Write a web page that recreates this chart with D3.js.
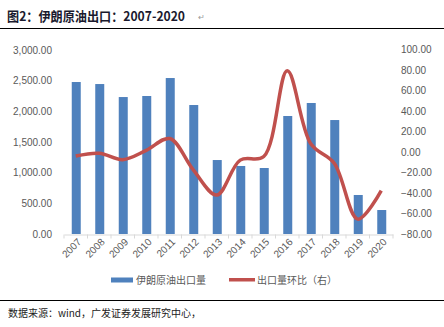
<!DOCTYPE html>
<html><head><meta charset="utf-8">
<script src="https://cdn.jsdelivr.net/npm/d3@7"></script>
<style>body{margin:0;background:#fff;}svg{display:block;}</style>
</head><body>
<script>
const years = ["2007","2008","2009","2010","2011","2012","2013","2014","2015","2016","2017","2018","2019","2020"];
const exports = [2478,2445,2233,2250,2543,2103,1206,1109,1076,1924,2136,1858,636,391];
const growth = [-4,-1.3,-7.6,1.5,13,-17.5,-42,-8,-4.5,79,8,-11,-65.5,-37.7];
const leftTicks = [0,500,1000,1500,2000,2500,3000];
const rightTicks = [-80,-60,-40,-20,0,20,40,60,80,100];
const seriesNames = ["伊朗原油出口量","出口量环比（右）"];

const W=444,H=327;
const svg=d3.select("body").append("svg").attr("width",W).attr("height",H);
const font="'Liberation Sans', Arial, sans-serif";
const cjk="'Noto Sans CJK SC', sans-serif";

// title
svg.append("text").attr("x",7).attr("y",21).attr("font-family",cjk).attr("font-weight","bold")
  .attr("font-size",13).attr("fill","#1a1a2e").attr("textLength",178).attr("lengthAdjust","spacingAndGlyphs")
  .text("图2：伊朗原油出口：2007-2020");
svg.append("text").attr("x",198).attr("y",20).attr("font-family",font).attr("font-size",8).attr("fill","#999").text("↵");
svg.append("line").attr("x1",0).attr("x2",444).attr("y1",28.5).attr("y2",28.5).attr("stroke","#000").attr("stroke-width",1);

const x=d3.scaleBand().domain(years).range([64,393]);
const yL=d3.scaleLinear().domain([0,3000]).range([234,50]);
const yR=d3.scaleLinear().domain([-80,100]).range([234,49.3]);

// axes labels
const gL=svg.append("g").attr("transform","translate(55,0)")
  .call(d3.axisLeft(yL).tickValues(leftTicks).tickSize(0).tickFormat(d3.format(",.2f")));
gL.select(".domain").remove();
gL.selectAll("text").attr("font-family",font).attr("font-size",10).attr("fill","#595959");

const gR=svg.append("g").attr("transform","translate(402,0)")
  .call(d3.axisRight(yR).tickValues(rightTicks).tickSize(0).tickFormat(d3.format(".2f")));
gR.select(".domain").remove();
gR.selectAll("text").attr("font-family",font).attr("font-size",10).attr("fill","#595959").attr("dx",-4);

// bars
const bw=9;
svg.selectAll("rect.bar").data(exports).enter().append("rect")
  .attr("x",(d,i)=>x(years[i])+x.bandwidth()/2-bw/2+0.5)
  .attr("width",bw).attr("y",d=>yL(d)).attr("height",d=>yL(0)-yL(d)).attr("fill","#4F81BD");

// x axis
const gX=svg.append("g").attr("transform","translate(0,234.5)")
  .call(d3.axisBottom(x).tickSize(0));
gX.select(".domain").attr("stroke","#d9d9d9");
const edges=years.map((y,i)=>64+i*x.bandwidth()).concat([393]);
gX.selectAll("line.tk").data(edges).enter().append("line").attr("class","tk")
  .attr("x1",d=>d).attr("x2",d=>d).attr("y1",0).attr("y2",4).attr("stroke","#d9d9d9");
gX.selectAll(".tick text").attr("font-family",font).attr("font-size",10).attr("fill","#595959")
  .attr("text-anchor","end").attr("dy",0).attr("transform","translate(4,6) rotate(-45)");

// line
const line=d3.line().x((d,i)=>x(years[i])+x.bandwidth()/2).y(d=>yR(d)).curve(d3.curveCatmullRom.alpha(0.5));
svg.append("path").datum(growth).attr("d",line).attr("fill","none").attr("stroke","#C0504D").attr("stroke-width",3.5);

// legend
svg.append("rect").attr("x",111).attr("y",277.5).attr("width",22).attr("height",5).attr("fill","#4F81BD");
svg.append("text").attr("x",136).attr("y",284).attr("font-family",cjk).attr("font-size",10).attr("fill","#595959").text(seriesNames[0]);
svg.append("rect").attr("x",229).attr("y",278).attr("width",26).attr("height",3.5).attr("fill","#C0504D");
svg.append("text").attr("x",257).attr("y",284).attr("font-family",cjk).attr("font-size",10).attr("fill","#595959").text(seriesNames[1]);

// footer
svg.append("line").attr("x1",0).attr("x2",444).attr("y1",300.5).attr("y2",300.5).attr("stroke","#000").attr("stroke-width",1);
svg.append("text").attr("x",8).attr("y",317).attr("font-family",cjk).attr("font-size",10).attr("fill","#222").text("数据来源：wind，广发证券发展研究中心，");
</script>
</body></html>
